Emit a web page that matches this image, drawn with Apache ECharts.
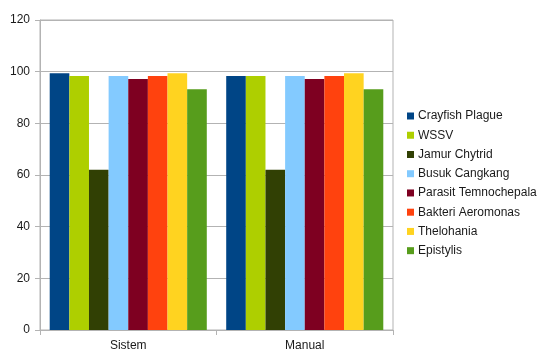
<!DOCTYPE html>
<html>
<head>
<meta charset="utf-8">
<script src="https://cdn.jsdelivr.net/npm/echarts@6/dist/echarts.min.js"></script>
<style>
  html, body { margin: 0; padding: 0; background: #fff; }
  #chart { width: 542px; height: 353px; }
</style>
</head>
<body>
<div id="chart"></div>
<script>
// Detection accuracy (%) per disease, system vs manual
const categories = ['Sistem', 'Manual'];
const seriesNames = [
  'Crayfish Plague', 'WSSV', 'Jamur Chytrid', 'Busuk Cangkang',
  'Parasit Temnochepala', 'Bakteri Aeromonas', 'Thelohania', 'Epistylis'
];
const crayfishPlague = [99.4, 98.3];
const wssv = [98.3, 98.3];
const jamurChytrid = [62, 62];
const busukCangkang = [98.3, 98.3];
const parasitTemnochepala = [97.2, 97.2];
const bakteriAeromonas = [98.3, 98.3];
const thelohania = [99.4, 99.4];
const epistylis = [93.2, 93.2];
const yTicks = [0, 20, 40, 60, 80, 100, 120];

const values = [crayfishPlague, wssv, jamurChytrid, busukCangkang,
  parasitTemnochepala, bakteriAeromonas, thelohania, epistylis];
const colors = ['#004586', '#aecf00', '#314004', '#83caff',
  '#7e0021', '#ff420e', '#ffd320', '#579d1c'];

const chart = echarts.init(document.getElementById('chart'), null, { renderer: 'canvas' });
const font = '"Liberation Sans", Arial, sans-serif';

chart.setOption({
  animation: false,
  color: colors,
  grid: {
    left: 40, right: 149, top: 20, bottom: 23,
    show: true, borderColor: '#b3b3b3', borderWidth: 1, backgroundColor: 'transparent'
  },
  legend: {
    orient: 'vertical',
    left: 402, top: 104,
    icon: 'rect',
    itemWidth: 7, itemHeight: 7,
    itemGap: 5.24,
    textStyle: { fontFamily: font, fontSize: 12, lineHeight: 14, color: '#1a1a1a', padding: [0, 0, 0, -1] },
    data: seriesNames
  },
  xAxis: {
    type: 'category',
    data: categories,
    axisLine: { lineStyle: { color: '#b3b3b3' } },
    axisTick: { show: true, length: 5, lineStyle: { color: '#b3b3b3' } },
    axisLabel: { fontFamily: font, fontSize: 12, color: '#1a1a1a', margin: 10 }
  },
  yAxis: {
    type: 'value',
    min: yTicks[0], max: yTicks[yTicks.length - 1], interval: 20,
    axisLine: { show: true, lineStyle: { color: '#b3b3b3' } },
    axisTick: { show: true, length: 5, lineStyle: { color: '#b3b3b3' } },
    axisLabel: { fontFamily: font, fontSize: 12, color: '#1a1a1a', margin: 10 },
    splitLine: { lineStyle: { color: '#b3b3b3' } }
  },
  series: seriesNames.map((name, i) => ({
    name: name,
    type: 'bar',
    data: values[i],
    barGap: '0%',
    barCategoryGap: '11%'
  }))
});
</script>
</body>
</html>
